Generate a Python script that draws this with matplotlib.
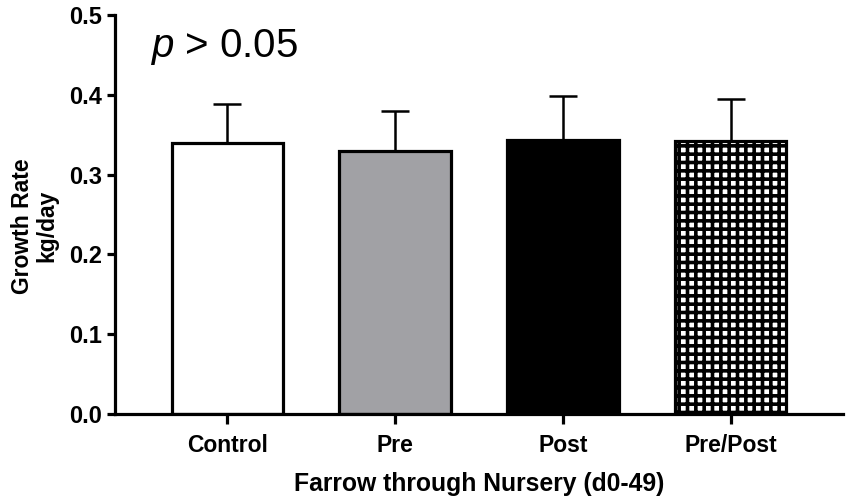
import matplotlib
matplotlib.use("Agg")
from matplotlib import pyplot as plt

# data
groups = ["Control", "Pre", "Post", "Pre/Post"]
growth_rate = [0.339, 0.330, 0.343, 0.342]
error_up = [0.049, 0.049, 0.055, 0.053]

colors = ["white", "#a1a1a5", "black", "white"]
hatches = ["", "", "", "++"]

plt.rcParams["font.family"] = ["Liberation Sans", "DejaVu Sans"]
plt.rcParams["mathtext.fontset"] = "custom"
plt.rcParams["mathtext.it"] = "Liberation Sans:italic"
plt.rcParams["mathtext.rm"] = "Liberation Sans"
plt.rcParams["hatch.linewidth"] = 2.6
plt.rcParams["hatch.color"] = "black"

fig = plt.figure(figsize=(8.51, 5.01), dpi=100)
ax = fig.add_axes([0.1351, 0.173, 0.8555, 0.7977])

x = list(range(len(groups)))
bars = ax.bar(x, growth_rate, width=0.665, color=colors, edgecolor="black",
              linewidth=2.3, zorder=2)
for bar, h in zip(bars, hatches):
    bar.set_hatch(h)

ax.errorbar(x, growth_rate, yerr=[[0] * len(x), error_up], fmt="none",
            ecolor="black", elinewidth=1.8, capsize=10, capthick=1.8, zorder=1)

ax.set_xlim(-0.67, 3.67)
ax.set_ylim(0, 0.5)
ax.set_yticks([0.0, 0.1, 0.2, 0.3, 0.4, 0.5])
ax.set_xticks(x)
ax.set_xticklabels(groups)

for s in ["top", "right"]:
    ax.spines[s].set_visible(False)
for s in ["left", "bottom"]:
    ax.spines[s].set_linewidth(2.3)

ax.tick_params(axis="y", width=2.3, length=6, labelsize=17, pad=3)
ax.tick_params(axis="x", width=2.3, length=7, labelsize=16.5, pad=7)
for lbl in ax.get_xticklabels() + ax.get_yticklabels():
    lbl.set_fontweight("bold")

ax.set_ylabel("Growth Rate\nkg/day", fontsize=16.5, fontweight="bold",
              linespacing=1.05)
ax.yaxis.set_label_coords(-0.078, 0.471)
ax.set_xlabel("Farrow through Nursery (d0-49)", fontsize=17.8,
              fontweight="bold", labelpad=11)

ax.text(0.048, 0.97, r"$\it{p}$ > 0.05", transform=ax.transAxes,
        fontsize=29, va="top", ha="left")

fig.savefig("out.png", dpi=100)
